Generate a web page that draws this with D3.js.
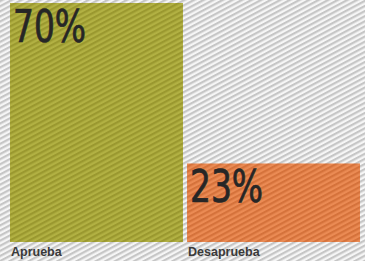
<!DOCTYPE html>
<html>
<head>
<meta charset="utf-8">
<script src="https://cdn.jsdelivr.net/npm/d3@7"></script>
<style>
  html, body { margin: 0; padding: 0; background: #fff; }
  svg { display: block; }
</style>
</head>
<body>
<svg id="chart"></svg>
<script>
// chart size
var width = 365,
    height = 261;

// data
var categories = ["Aprueba", "Desaprueba"];
var values = [70, 23];
var valueLabels = ["70%", "23%"];
var barColors = [["#b2b143", "#9a982f"], ["#eb8b54", "#d5723b"]];

var svg = d3.select("#chart")
  .attr("width", width)
  .attr("height", height);

var defs = svg.append("defs");

// diagonal stripe patterns (background + one per bar)
function stripes(id, light, dark) {
  var p = defs.append("pattern")
    .attr("id", id)
    .attr("patternUnits", "userSpaceOnUse")
    .attr("width", 4.5)
    .attr("height", 4.5)
    .attr("patternTransform", "rotate(-28)");
  p.append("rect").attr("width", 4.5).attr("height", 4.5).attr("fill", light);
  p.append("rect").attr("width", 4.5).attr("height", 2.2).attr("fill", dark);
}
stripes("bg", "#f6f6f6", "#c6c6c6");
barColors.forEach(function(c, i) { stripes("bar" + i, c[0], c[1]); });

svg.append("rect")
  .attr("width", width)
  .attr("height", height)
  .attr("fill", "url(#bg)");

var x = d3.scaleBand()
  .domain(categories)
  .range([10, 360])
  .paddingInner(0.023)
  .paddingOuter(0);

var y = d3.scaleLinear()
  .domain([0, 70])
  .range([242, 3]);

var g = svg.append("g");

g.selectAll(".bar")
  .data(values)
  .enter().append("rect")
    .attr("class", "bar")
    .attr("x", function(d, i) { return x(categories[i]); })
    .attr("y", function(d) { return y(d); })
    .attr("width", x.bandwidth())
    .attr("height", function(d) { return y(0) - y(d); })
    .attr("fill", function(d, i) { return "url(#bar" + i + ")"; });

// big percentage labels inside the bars (squeezed to look condensed)
g.selectAll(".pct")
  .data(values)
  .enter().append("text")
    .attr("class", "pct")
    .attr("x", function(d, i) { return x(categories[i]) + 3; })
    .attr("y", function(d) { return y(d) + 39; })
    .attr("font-family", "'DejaVu Sans Condensed', 'DejaVu Sans', sans-serif")
    .attr("font-size", 44)
    .attr("textLength", 73)
    .attr("lengthAdjust", "spacingAndGlyphs")
    .attr("fill", "#262626")
    .attr("stroke", "#262626")
    .attr("stroke-width", 0.7)
    .text(function(d, i) { return valueLabels[i]; });

// category labels under the bars
g.selectAll(".cat")
  .data(categories)
  .enter().append("text")
    .attr("class", "cat")
    .attr("x", function(d) { return x(d) + 1; })
    .attr("y", 256)
    .attr("font-family", "'Liberation Sans', Arial, sans-serif")
    .attr("font-weight", "bold")
    .attr("font-size", 12.5)
    .attr("fill", "#3a3a3a")
    .text(function(d) { return d; });
</script>
</body>
</html>
